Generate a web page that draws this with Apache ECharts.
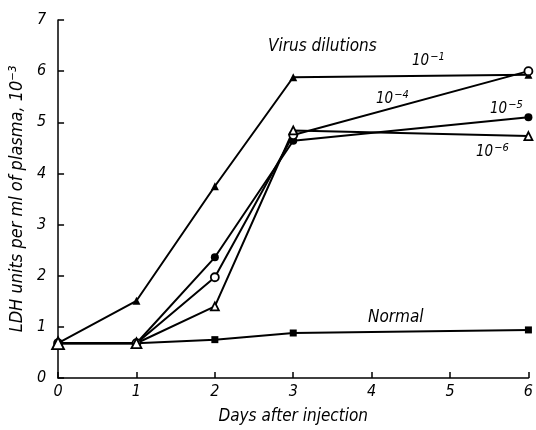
<!DOCTYPE html>
<html>
<head>
<meta charset="utf-8">
<script src="https://cdn.jsdelivr.net/npm/echarts@6/dist/echarts.min.js"></script>
<style>
  html, body { margin: 0; padding: 0; background: #fff; }
  #chart { width: 536px; height: 430px; }
</style>
</head>
<body>
<div id="chart"></div>
<script>
// 数据
const days = [0, 1, 2, 3, 6];
const dil1 = [0.68, 1.51, 3.75, 5.88, 5.93];   // 10^-1
const dil4 = [0.68, 0.68, 1.97, 4.75, 6.0];    // 10^-4
const dil5 = [0.68, 0.68, 2.36, 4.64, 5.1];    // 10^-5
const dil6 = [0.68, 0.68, 1.4, 4.84, 4.73];    // 10^-6
const normal = [0.68, 0.68, 0.75, 0.88, 0.94];
const xTicks = [0, 1, 2, 3, 4, 5, 6];
const yTicks = [0, 1, 2, 3, 4, 5, 6, 7];

const FONT = "'DejaVu Sans Condensed', 'DejaVu Sans', sans-serif";

function pairs(vals) {
    return days.map((d, i) => [d, vals[i]]);
}

function makeSeries(name, vals, symbol, size, open) {
    return {
        name: name,
        type: 'line',
        data: pairs(vals),
        symbol: symbol,
        symbolSize: size,
        showAllSymbol: true,
        lineStyle: { color: '#000', width: 2 },
        itemStyle: {
            color: open ? '#fff' : '#000',
            borderColor: '#000',
            borderWidth: open ? 1.8 : 0
        },
        emphasis: { disabled: true },
        animation: false,
        z: 3
    };
}

// 上标标签
function powLabel(exp, left, top) {
    return {
        type: 'text', left: left, top: top,
        style: {
            text: '{b|10}{s|−' + exp + '}',
            rich: {
                b: { font: "italic 15px " + FONT, fill: '#000' },
                s: { font: "italic 11px " + FONT, fill: '#000', verticalAlign: 'top', padding: [0, 0, 8, 1] }
            }
        }
    };
}

const chart = echarts.init(document.getElementById('chart'));

const option = {
    backgroundColor: '#fff',
    animation: false,
    grid: { left: 57, right: 5, top: 20, bottom: 45 },
    xAxis: {
        type: 'value',
        min: 0,
        max: 6,
        interval: 1,
        name: 'Days after injection',
        nameLocation: 'middle',
        nameGap: 30,
        nameTextStyle: { fontFamily: FONT, fontStyle: 'italic', fontSize: 17, color: '#000' },
        axisLine: { lineStyle: { color: '#000', width: 1.5 } },
        axisTick: { inside: true, length: 6, lineStyle: { color: '#000', width: 1.5 } },
        axisLabel: {
            fontFamily: FONT, fontStyle: 'italic', fontSize: 16, color: '#000', margin: 6,
            formatter: v => xTicks.includes(v) ? String(v) : ''
        },
        splitLine: { show: false }
    },
    yAxis: {
        type: 'value',
        min: 0,
        max: 7,
        interval: 1,
        name: 'LDH units per ml of plasma, 10⁻³',
        nameLocation: 'middle',
        nameGap: 32,
        nameTextStyle: { fontFamily: FONT, fontStyle: 'italic', fontSize: 18, color: '#000' },
        axisLine: { lineStyle: { color: '#000', width: 1.5 } },
        axisTick: { inside: true, length: 6, lineStyle: { color: '#000', width: 1.5 } },
        axisLabel: {
            fontFamily: FONT, fontStyle: 'italic', fontSize: 16, color: '#000', margin: 12,
            formatter: v => yTicks.includes(v) ? String(v) : ''
        },
        splitLine: { show: false }
    },
    series: [
        makeSeries('Normal', normal, 'rect', 7, false),
        makeSeries('10^-1', dil1, 'triangle', 8, false),
        makeSeries('10^-5', dil5, 'circle', 8, false),
        makeSeries('10^-4', dil4, 'circle', 8, true),
        makeSeries('10^-6', dil6, 'triangle', (v, p) => p.dataIndex === 0 ? 12 : (p.dataIndex === 1 ? 10 : 8), true)
    ],
    graphic: [
        { type: 'text', left: 268, top: 38, style: { text: 'Virus dilutions', font: "italic 17px " + FONT, fill: '#000' } },
        powLabel(1, 412, 52),
        powLabel(4, 376, 90),
        powLabel(5, 490, 100),
        powLabel(6, 476, 143),
        { type: 'text', left: 368, top: 309, style: { text: 'Normal', font: "italic 17px " + FONT, fill: '#000' } }
    ]
};

chart.setOption(option);

window.addEventListener('resize', function() {
    chart.resize();
});
</script>
</body>
</html>
